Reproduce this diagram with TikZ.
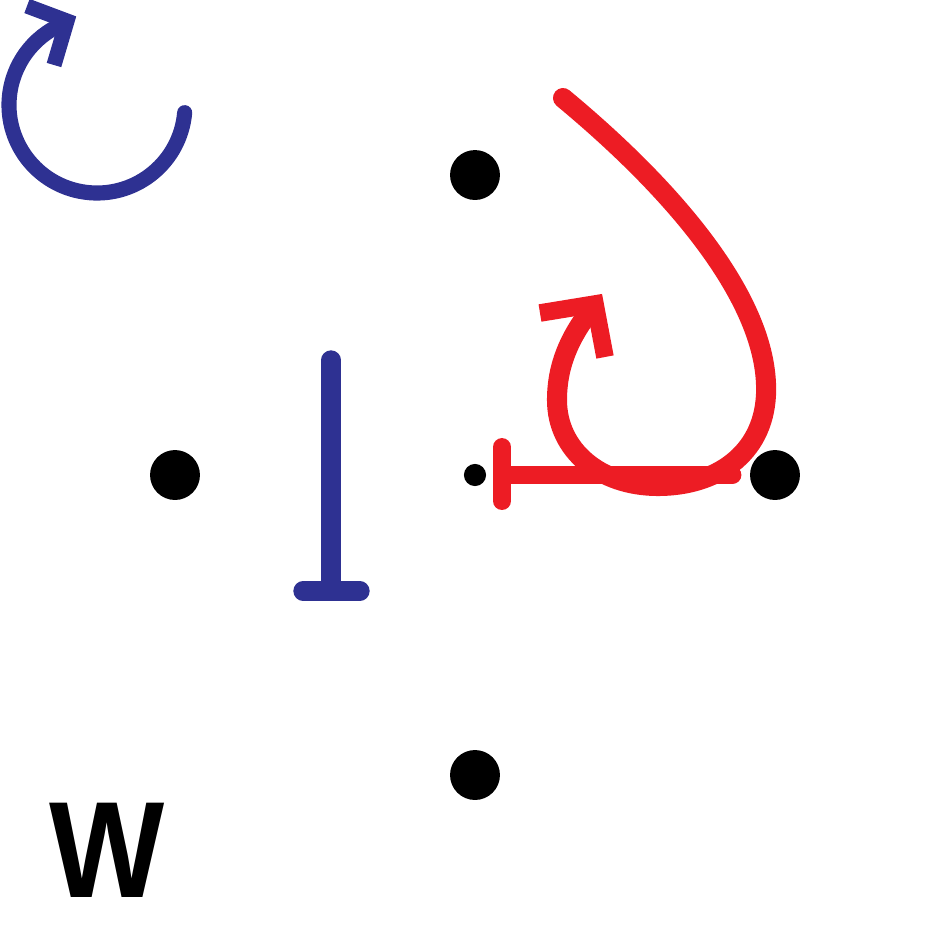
\documentclass[tikz,border=0pt]{standalone}
\usepackage{fontspec}
\newfontfamily\wfont{Liberation Sans}
\definecolor{dblue}{HTML}{2E3192}
\definecolor{dred}{HTML}{ED1C24}
\begin{document}
\begin{tikzpicture}[x=0.01cm,y=-0.01cm,
  bigdot/.style={circle,fill=black,inner sep=0pt,minimum size=14.2pt},
  smalldot/.style={circle,fill=black,inner sep=0pt,minimum size=6.3pt},
  bluestroke/.style={draw=dblue,line width=4.3pt,line cap=round},
  bluehead/.style={draw=dblue,line width=4.3pt,line cap=butt,line join=miter},
  blueT/.style={draw=dblue,line width=5.5pt,line cap=round},
  redstroke/.style={draw=dred,line width=5.7pt,line cap=round},
  redhead/.style={draw=dred,line width=5pt,line cap=butt,line join=miter},
  redT/.style={draw=dred,line width=5.1pt,line cap=round}]
\useasboundingbox (0,0) rectangle (950,950);
% dots
\node[bigdot] (top) at (475,175) {};
\node[bigdot] (left) at (175,475) {};
\node[bigdot] (right) at (775,475) {};
\node[bigdot] (bottom) at (475,775) {};
\node[smalldot] (mid) at (475,475) {};
% blue circular arrow
\coordinate (bc) at (97,105);
\draw[bluestroke] (bc) ++(5:88) arc[start angle=5,end angle=247,radius=88];
\coordinate (bhA) at (27,6);
\coordinate (bhT) at (67,21);
\coordinate (bhB) at (54,65);
\draw[bluehead] (bhA) -- (bhT) -- (bhB);
% blue T
\coordinate (bTtop) at (331,360);
\coordinate (bTbot) at (331,591);
\coordinate (bBarL) at (303,591);
\coordinate (bBarR) at (360,591);
\draw[blueT] (bTtop) -- (bTbot);
\draw[blueT] (bBarL) -- (bBarR);
% red T from right dot to middle dot
\draw[redT,shorten <=4.8pt,shorten >=4.6pt] (right) -- (mid);
\coordinate (rBarT) at (502,447);
\coordinate (rBarB) at (502,501);
\draw[redT] (rBarT) -- (rBarB);
% red loop
\coordinate (rs) at (563,98);
\coordinate (rr) at (766,395);
\coordinate (rb) at (658,486);
\coordinate (rl) at (557,400);
\coordinate (re) at (590,311);
\draw[redstroke] (rs) .. controls (680,195) and (770,305) .. (rr)
  .. controls (763,455) and (715,486) .. (rb)
  .. controls (600,486) and (557,450) .. (rl)
  .. controls (557,365) and (570,337) .. (re);
\coordinate (rhA) at (540,313);
\coordinate (rhT) at (595,304);
\coordinate (rhB) at (605,357);
\draw[redhead] (rhA) -- (rhT) -- (rhB);
% W
\node[anchor=base,inner sep=0pt] (w) at (107,897)
  {\wfont\bfseries\fontsize{39}{39}\selectfont\scalebox{0.89}[1]{W}};
\end{tikzpicture}
\end{document}
